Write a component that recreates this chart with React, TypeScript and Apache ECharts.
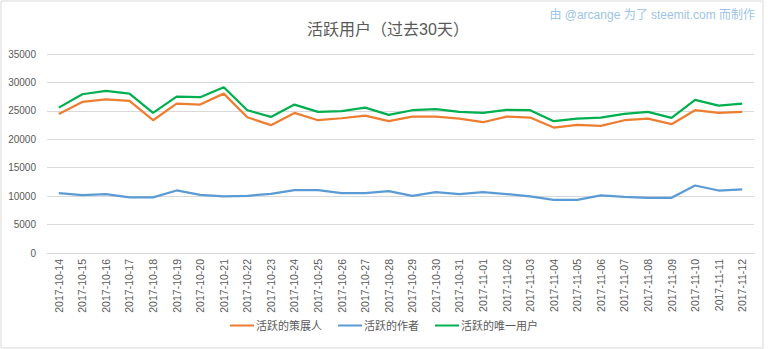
import React, { useEffect, useRef } from "react";
import * as echarts from "echarts";

const categories = [
  "2017-10-14","2017-10-15","2017-10-16","2017-10-17","2017-10-18","2017-10-19","2017-10-20",
  "2017-10-21","2017-10-22","2017-10-23","2017-10-24","2017-10-25","2017-10-26","2017-10-27",
  "2017-10-28","2017-10-29","2017-10-30","2017-10-31","2017-11-01","2017-11-02","2017-11-03",
  "2017-11-04","2017-11-05","2017-11-06","2017-11-07","2017-11-08","2017-11-09","2017-11-10",
  "2017-11-11","2017-11-12",
];

const curators = [
  24460, 26570, 27040, 26750, 23350, 26270, 26100, 28030, 23880, 22480,
  24640, 23350, 23700, 24170, 23180, 23990, 23990, 23640, 23000, 23990,
  23820, 22060, 22530, 22360, 23350, 23640, 22650, 25110, 24640, 24810,
];

const authors = [
  10540, 10190, 10360, 9770, 9770, 11000, 10240, 9940, 10060, 10410,
  11060, 11060, 10540, 10540, 10890, 10060, 10710, 10360, 10710, 10360,
  9940, 9360, 9360, 10120, 9890, 9710, 9710, 11870, 10990, 11170,
];

const uniqueUsers = [
  25570, 27920, 28500, 28030, 24640, 27500, 27400, 29150, 25110, 23930,
  26100, 24810, 24940, 25570, 24290, 25110, 25290, 24810, 24640, 25170,
  25110, 23180, 23640, 23820, 24460, 24810, 23760, 26920, 25920, 26270,
];

const seriesNames = ["活跃的策展人", "活跃的作者", "活跃的唯一用户"];
const yTicks = { min: 0, max: 35000, interval: 5000 };
const titleText = "活跃用户（过去30天）";
const creditText = "由 @arcange 为了 steemit.com 而制作";

const FONT = "'Liberation Sans', 'Noto Sans CJK SC', sans-serif";

export default function App() {
  const ref = useRef<HTMLDivElement>(null);
  useEffect(() => {
    if (!ref.current) return;
    const chart = echarts.init(ref.current, undefined, { renderer: "svg" });
    const colors = ["#ED7D31", "#5B9BD5", "#00B050"];
    const values = [curators, authors, uniqueUsers];
    chart.setOption({
      animation: false,
      backgroundColor: "#ffffff",
      textStyle: { fontFamily: FONT },
      title: {
        text: titleText,
        left: 383,
        textAlign: "center",
        top: 16,
        textStyle: { fontSize: 16, fontWeight: "normal", color: "#595959", fontFamily: FONT },
      },
      graphic: [
        {
          type: "rect",
          shape: { x: 1, y: 1, width: 762, height: 347 },
          style: { fill: "none", stroke: "#d9d9d9", lineWidth: 1 },
          silent: true,
        },
        {
          type: "text",
          right: 13,
          top: 9,
          style: { text: creditText, fill: "#9DC3E6", fontSize: 12, fontFamily: FONT },
        },
      ],
      legend: {
        bottom: 13,
        left: "center",
        itemWidth: 24,
        itemHeight: 2,
        itemGap: 16,
        icon: "rect",
        textStyle: { fontSize: 11, color: "#595959", fontFamily: FONT, padding: [0, 0, 0, -3] },
        data: seriesNames,
      },
      grid: { left: 47, right: 14, top: 54, bottom: 96, containLabel: false },
      xAxis: {
        type: "category",
        data: categories,
        boundaryGap: true,
        axisLine: { show: true, lineStyle: { color: "#d9d9d9" } },
        axisTick: { show: false },
        axisLabel: { rotate: 90, fontSize: 10.5, color: "#595959", interval: 0, margin: 6, fontFamily: FONT },
      },
      yAxis: {
        type: "value",
        min: yTicks.min,
        max: yTicks.max,
        interval: yTicks.interval,
        axisLine: { show: false },
        axisTick: { show: false },
        splitLine: { lineStyle: { color: "#d9d9d9" } },
        axisLabel: {
          fontSize: 10,
          color: "#595959",
          margin: 11,
          fontFamily: FONT,
          formatter: (v: number) => String(v),
        },
      },
      series: seriesNames.map((name, i) => ({
        name,
        type: "line",
        data: values[i],
        symbol: "none",
        lineStyle: { width: 2.25, color: colors[i] },
        itemStyle: { color: colors[i] },
      })),
    });
    return () => chart.dispose();
  }, []);
  return <div ref={ref} style={{ width: 768, height: 349, position: "absolute", left: 0, top: 0 }} />;
}
